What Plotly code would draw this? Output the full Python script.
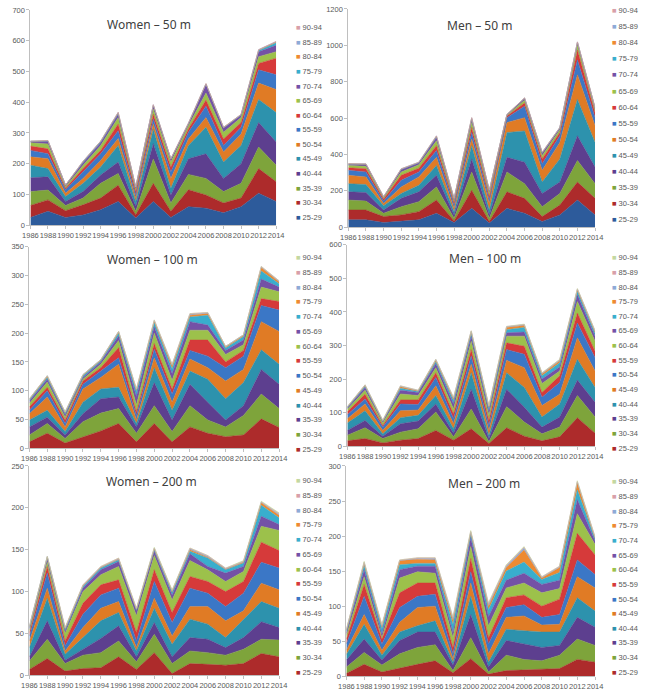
import plotly.graph_objects as go

W, H = 645, 699

years = list(range(1986, 2015, 2))
age_groups = ["25-29", "30-34", "35-39", "40-44", "45-49", "50-54", "55-59",
              "60-64", "65-69", "70-74", "75-79", "80-84", "85-89", "90-94"]

# swimmers per age group (rows follow age_groups, columns follow years)
women_50m = [
    [25, 45, 25, 33, 50, 77, 23, 77, 25, 60, 55, 40, 60, 104, 77],
    [39, 37, 22, 33, 38, 53, 11, 59, 20, 55, 43, 32, 28, 80, 64],
    [45, 32, 17, 22, 48, 38, 11, 79, 27, 50, 54, 37, 48, 70, 54],
    [45, 43, 13, 21, 27, 37, 16, 50, 26, 51, 80, 43, 64, 80, 75],
    [41, 27, 16, 27, 26, 54, 16, 47, 22, 43, 86, 53, 59, 75, 96],
    [27, 32, 11, 16, 21, 23, 11, 17, 32, 21, 32, 33, 37, 53, 75],
    [21, 16, 11, 21, 22, 25, 10, 16, 21, 22, 37, 21, 22, 43, 48],
    [14, 16, 5, 11, 11, 22, 11, 16, 16, 11, 20, 21, 16, 21, 54],
    [11, 16, 5, 11, 16, 21, 6, 16, 16, 10, 23, 22, 16, 22, 21],
    [4, 8, 5, 8, 9, 11, 7, 11, 9, 5, 27, 13, 7, 16, 21],
    [1, 2, 0, 3, 4, 3, 1, 2, 1, 2, 2, 2, 2, 4, 8],
    [0, 1, 0, 1, 1, 2, 1, 1, 1, 1, 1, 1, 1, 2, 3],
    [0, 0, 0, 1, 0, 1, 0, 1, 0, 1, 0, 0, 0, 1, 1],
    [0, 0, 0, 0, 0, 0, 0, 0, 0, 0, 0, 0, 0, 0, 1],
]
men_50m = [
    [40, 40, 25, 31, 40, 76, 25, 103, 22, 103, 76, 31, 67, 149, 67],
    [54, 54, 33, 36, 45, 73, 9, 100, 9, 91, 82, 27, 54, 99, 91],
    [55, 49, 18, 45, 55, 72, 15, 100, 18, 109, 81, 54, 64, 118, 81],
    [45, 47, 18, 46, 54, 64, 18, 72, 18, 81, 118, 73, 63, 136, 91],
    [45, 44, 24, 27, 36, 54, 18, 73, 27, 136, 172, 63, 127, 200, 136],
    [46, 42, 12, 36, 46, 45, 18, 36, 36, 55, 73, 64, 91, 136, 91],
    [27, 27, 13, 36, 27, 37, 18, 36, 19, 27, 63, 36, 36, 81, 45],
    [14, 18, 11, 28, 21, 27, 13, 28, 18, 9, 18, 27, 18, 55, 27],
    [13, 13, 7, 18, 19, 27, 11, 27, 18, 4, 15, 18, 15, 27, 15],
    [7, 10, 4, 12, 10, 18, 7, 18, 13, 3, 9, 13, 9, 12, 9],
    [1, 2, 1, 3, 2, 5, 3, 5, 2, 1, 2, 3, 2, 3, 2],
    [1, 1, 1, 2, 1, 3, 2, 3, 2, 1, 1, 2, 1, 2, 1],
    [0, 1, 0, 1, 1, 1, 1, 1, 1, 0, 1, 1, 1, 1, 0],
    [0, 0, 0, 0, 0, 0, 0, 0, 0, 0, 0, 0, 0, 0, 0],
]
women_100m = [
    [11, 26, 9, 20, 30, 43, 11, 43, 11, 37, 26, 20, 23, 51, 36],
    [12, 17, 8, 26, 31, 26, 15, 31, 18, 37, 23, 17, 34, 43, 33],
    [14, 11, 6, 14, 25, 20, 11, 40, 20, 37, 31, 12, 17, 43, 42],
    [12, 12, 6, 20, 17, 17, 6, 26, 17, 23, 40, 37, 40, 34, 35],
    [11, 23, 8, 23, 20, 40, 6, 17, 14, 21, 20, 31, 23, 49, 57],
    [6, 11, 6, 8, 11, 11, 8, 15, 14, 15, 20, 23, 23, 28, 37],
    [6, 6, 6, 6, 6, 18, 6, 10, 9, 18, 28, 10, 10, 12, 15],
    [6, 9, 5, 3, 6, 12, 12, 18, 15, 17, 17, 13, 10, 20, 17],
    [4, 5, 4, 3, 4, 8, 15, 11, 12, 15, 9, 7, 8, 14, 8],
    [2, 3, 3, 3, 2, 5, 8, 7, 8, 8, 17, 4, 6, 14, 6],
    [1, 2, 1, 1, 1, 2, 3, 3, 5, 3, 3, 2, 2, 6, 3],
    [1, 1, 1, 1, 1, 1, 1, 1, 2, 2, 1, 1, 1, 1, 1],
    [0, 0, 0, 0, 0, 0, 1, 1, 1, 1, 1, 0, 0, 1, 1],
    [0, 0, 0, 0, 0, 0, 0, 0, 0, 0, 0, 0, 0, 0, 0],
]
men_100m = [
    [16, 23, 10, 18, 23, 47, 18, 52, 8, 55, 30, 16, 28, 85, 39],
    [17, 32, 13, 24, 29, 55, 10, 59, 5, 63, 42, 21, 29, 66, 48],
    [14, 22, 7, 25, 23, 24, 11, 59, 10, 52, 44, 20, 30, 46, 44],
    [22, 29, 7, 18, 17, 25, 13, 49, 9, 49, 59, 30, 39, 62, 44],
    [13, 20, 10, 21, 16, 29, 15, 25, 15, 37, 59, 34, 29, 64, 49],
    [12, 15, 10, 20, 16, 25, 15, 25, 15, 32, 40, 25, 35, 44, 40],
    [9, 14, 5, 12, 14, 14, 14, 19, 15, 20, 24, 14, 20, 30, 19],
    [7, 12, 7, 18, 13, 15, 15, 25, 15, 20, 30, 27, 14, 34, 30],
    [4, 8, 4, 11, 9, 12, 15, 15, 12, 10, 12, 13, 12, 20, 15],
    [2, 4, 2, 6, 3, 6, 10, 9, 9, 9, 14, 10, 13, 10, 9],
    [1, 2, 1, 4, 2, 4, 5, 4, 4, 7, 6, 5, 5, 5, 4],
    [1, 1, 1, 2, 1, 2, 3, 2, 2, 2, 2, 2, 3, 2, 2],
    [0, 1, 0, 1, 1, 1, 1, 1, 1, 1, 1, 1, 1, 1, 1],
    [0, 0, 0, 0, 0, 0, 1, 0, 1, 0, 1, 1, 1, 1, 0],
]
women_200m = [
    [7, 20, 5, 8, 9, 22, 7, 27, 2, 14, 13, 12, 14, 26, 22],
    [10, 23, 9, 16, 18, 19, 9, 22, 12, 15, 14, 12, 17, 17, 20],
    [5, 22, 4, 7, 17, 18, 6, 14, 8, 16, 16, 9, 14, 21, 15],
    [11, 27, 7, 14, 21, 16, 7, 17, 15, 22, 18, 12, 22, 24, 23],
    [8, 12, 4, 12, 15, 13, 4, 12, 10, 15, 21, 20, 10, 22, 22],
    [6, 18, 6, 16, 16, 16, 8, 20, 16, 22, 16, 17, 21, 25, 26],
    [4, 8, 6, 13, 12, 10, 10, 14, 12, 14, 14, 18, 14, 24, 21],
    [3, 5, 9, 14, 12, 16, 20, 17, 15, 19, 14, 12, 12, 19, 24],
    [2, 4, 3, 4, 6, 6, 6, 5, 6, 8, 4, 10, 6, 12, 7],
    [2, 2, 2, 2, 2, 2, 1, 2, 3, 3, 10, 4, 4, 13, 8],
    [0, 0, 1, 1, 1, 1, 1, 1, 1, 2, 1, 1, 1, 3, 3],
    [1, 1, 0, 0, 0, 0, 0, 1, 1, 1, 1, 0, 1, 1, 1],
    [0, 0, 1, 1, 1, 1, 1, 0, 0, 1, 1, 1, 0, 0, 1],
    [0, 0, 0, 0, 0, 0, 0, 1, 1, 0, 0, 0, 1, 1, 1],
]
men_200m = [
    [4, 17, 6, 12, 17, 22, 5, 25, 3, 8, 9, 11, 11, 24, 20],
    [9, 17, 10, 20, 24, 23, 3, 30, 3, 22, 15, 11, 19, 29, 24],
    [10, 19, 7, 19, 22, 18, 8, 33, 7, 21, 22, 19, 14, 31, 26],
    [8, 21, 7, 12, 9, 16, 4, 26, 7, 16, 19, 22, 19, 28, 23],
    [6, 14, 7, 14, 26, 21, 5, 19, 12, 17, 21, 10, 11, 30, 33],
    [9, 26, 9, 21, 16, 17, 7, 16, 14, 14, 16, 11, 14, 24, 19],
    [7, 17, 7, 21, 19, 16, 9, 19, 9, 14, 14, 16, 22, 38, 28],
    [5, 11, 2, 21, 16, 14, 14, 17, 17, 14, 17, 19, 15, 28, 15],
    [4, 10, 5, 12, 8, 10, 7, 13, 13, 11, 14, 12, 12, 20, 5],
    [3, 6, 8, 7, 4, 4, 12, 5, 10, 13, 16, 7, 11, 14, 3],
    [1, 3, 3, 6, 6, 5, 6, 2, 5, 5, 17, 2, 7, 10, 1],
    [1, 1, 1, 0, 1, 2, 2, 1, 2, 2, 3, 1, 1, 1, 1],
    [0, 1, 1, 1, 1, 1, 2, 1, 2, 1, 1, 1, 1, 1, 1],
    [0, 1, 1, 0, 0, 0, 1, 1, 1, 1, 1, 0, 0, 1, 0],
]

# excel-ish palette; the lower rows start one colour later
top_colours = ["#2d5b9b", "#ad2b2b", "#7ea43b", "#5d3f8f", "#2d92ad", "#e07b25",
               "#3b77c6", "#d63a3a", "#9cc14b", "#7451a6", "#39aecd", "#ee8a31",
               "#8eaad6", "#d8a0a8"]
low_colours = top_colours[1:] + ["#c4d8a0"]

# title, data, colours, y max, y step, plot box (px), title centre (px), legend (marker x, top y, bottom y)
panels = [
    ("Women – 50 m", women_50m, top_colours, 700, 100, (23, 275, 6, 224), (145, 21), (293, 24, 216)),
    ("Men – 50 m", men_50m, top_colours, 1200, 200, (349, 602, 5, 226), (484, 22), (617, 7, 218)),
    ("Women – 100 m", women_100m, low_colours, 350, 50, (22, 278, 246, 450), (148, 259), (293, 257, 451)),
    ("Men – 100 m", men_100m, low_colours, 600, 100, (348, 602, 244, 448), (489, 258), (617, 257, 450)),
    ("Women – 200 m", women_200m, low_colours, 250, 50, (22, 278, 468, 680), (147, 484), (293, 483, 677)),
    ("Men – 200 m", men_200m, low_colours, 300, 50, (347, 602, 468, 681), (488, 486), (617, 484, 677)),
]

fig = go.Figure()
annotations = []
axis_font = dict(family="Liberation Sans, Arial", size=7.5, color="#595959")

for i, (title, data, colours, ymax, ystep, box, tpos, leg) in enumerate(panels):
    n = "" if i == 0 else str(i + 1)
    x0, x1, y0, y1 = box
    for age, values, colour in zip(age_groups, data, colours):
        fig.add_trace(go.Scatter(
            x=years, y=values, name=age,
            mode="lines", stackgroup="g" + str(i),
            line=dict(width=0.5, color=colour), fillcolor=colour,
            xaxis="x" + n, yaxis="y" + n, showlegend=False,
        ))

    fig.layout["xaxis" + n] = dict(
        domain=[x0 / W, x1 / W], anchor="y" + n, range=[1986, 2014],
        tickmode="array", tickvals=years, tickangle=0, tickfont=axis_font,
        showline=True, linecolor="#bfbfbf", linewidth=1, ticks="outside",
        ticklen=3, tickcolor="#bfbfbf", showgrid=False, zeroline=False,
    )
    fig.layout["yaxis" + n] = dict(
        domain=[1 - y1 / H, 1 - y0 / H], anchor="x" + n, range=[0, ymax],
        dtick=ystep, tick0=0, tickfont=axis_font,
        showline=True, linecolor="#bfbfbf", linewidth=1, ticks="outside",
        ticklen=3, tickcolor="#bfbfbf", showgrid=False, zeroline=False,
    )

    annotations.append(dict(
        text=title, x=tpos[0] / W, y=1 - tpos[1] / H, xref="paper", yref="paper",
        xanchor="center", yanchor="middle", showarrow=False,
        font=dict(family="Noto Sans, Liberation Sans", size=12, color="#404040"),
    ))

    # legend, oldest group on top like the original
    lx, ltop, lbot = leg
    step = (lbot - ltop) / (len(age_groups) - 1)
    for k, (age, colour) in enumerate(zip(reversed(age_groups), reversed(colours))):
        annotations.append(dict(
            text=f'<span style="color:{colour}">■</span> {age}',
            x=lx / W, y=1 - (ltop + k * step) / H, xref="paper", yref="paper",
            xanchor="left", yanchor="middle", showarrow=False,
            font=dict(family="Liberation Sans, Arial", size=7.5, color="#595959"),
        ))

fig.update_layout(
    width=W, height=H,
    margin=dict(l=0, r=0, t=0, b=0),
    paper_bgcolor="white", plot_bgcolor="white",
    annotations=annotations,
    hovermode="x unified",
)

# drop the default page margin so the 645x699 figure fills the window exactly
fig.write_html("out.html",
               config={"displayModeBar": False},
               post_script="document.body.style.margin='0';document.body.style.overflow='hidden';")
